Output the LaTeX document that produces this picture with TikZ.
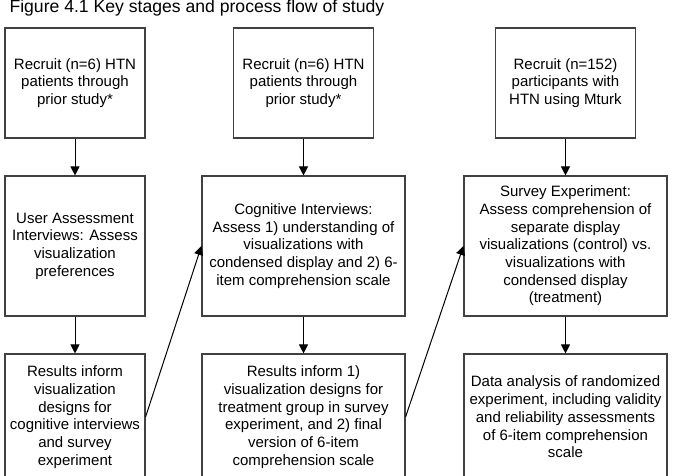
\documentclass[tikz,border=0pt]{standalone}
\usepackage{fontspec}
\setmainfont{Liberation Sans}
\usepackage{tikz}
\usetikzlibrary{arrows.meta}

\begin{document}
\begin{tikzpicture}[x=1pt,y=1pt,
  stage/.style={draw=black!75, line width=1.1pt, align=center, inner sep=0pt,
    font=\fontsize{15}{17.7}\selectfont},
  small/.style={stage, minimum width=140pt, minimum height=110pt},
  wide/.style={stage, minimum width=203pt},
  flow/.style={-{Triangle[length=9pt,width=9pt]}, line width=1pt}]
\useasboundingbox (0,0) rectangle (673,475);
\fill[white] (0,0) rectangle (673,475);

\node[anchor=base west, font=\fontsize{17.6}{20}\selectfont] (title) at (6,462) {Figure 4.1 Key stages and process flow of study};

% first column
\node[small] (recruitA) at (75,392) {Recruit (n=6) HTN\\patients through\\prior study*};
\node[small, minimum height=140pt] (userInt) at (75,229) {User Assessment\\Interviews: Assess\\visualization\\preferences};
\node[small, minimum height=126pt] (resultsA) at (75,58) {Results inform\\visualization\\designs for\\cognitive interviews\\and survey\\experiment};

% second column
\node[small] (recruitB) at (303.5,392) {Recruit (n=6) HTN\\patients through\\prior study*};
\node[wide, minimum height=140pt] (cogInt) at (303.5,229) {Cognitive Interviews:\\Assess 1) understanding of\\visualizations with\\condensed display and 2) 6-\\item comprehension scale};
\node[wide, minimum height=126pt] (resultsB) at (303.5,58) {Results inform 1)\\visualization designs for\\treatment group in survey\\experiment, and 2) final\\version of 6-item\\comprehension scale};

% third column
\node[small] (recruitC) at (565.5,392) {Recruit (n=152)\\participants with\\HTN using Mturk};
\node[wide, minimum height=140pt] (survey) at (565.5,229) {Survey Experiment:\\Assess comprehension of\\separate display\\visualizations (control) vs.\\visualizations with\\condensed display\\(treatment)};
\node[wide, minimum height=126pt] (analysis) at (565.5,58) {Data analysis of randomized\\experiment, including validity\\and reliability assessments\\of 6-item comprehension\\scale};

\draw[flow] (recruitA) -- (userInt);
\draw[flow] (userInt) -- (resultsA);
\draw[flow] (recruitB) -- (cogInt);
\draw[flow] (cogInt) -- (resultsB);
\draw[flow] (recruitC) -- (survey);
\draw[flow] (survey) -- (analysis);
\draw[flow] (resultsA.east) -- (cogInt.west);
\draw[flow] (resultsB.east) -- (survey.west);
\end{tikzpicture}
\end{document}
